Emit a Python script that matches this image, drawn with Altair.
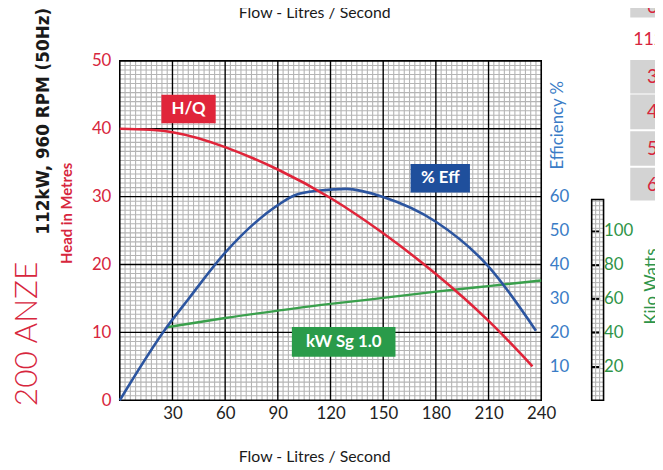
import altair as alt
import pandas as pd

# ---------------- data ----------------
flow_hq = [0, 30, 60, 90, 120, 150, 180, 210, 235]
head_hq = [40.0, 39.5, 37.3, 34.0, 29.8, 24.6, 18.6, 11.7, 5.0]

flow_eff = [0, 26.7, 38.9, 60, 90, 100, 114, 129, 150, 180, 210, 237]
eff_pct = [0, 21.5, 29.7, 43.5, 57.5, 60.5, 61.8, 62.3, 59.9, 52.6, 39.4, 20.5]

flow_kw = [26.7, 60, 90, 120, 150, 180, 210, 240]
kw_val = [43.0, 48.5, 52.8, 56.8, 60.3, 64.0, 67.3, 70.6]

flow_ticks = [30, 60, 90, 120, 150, 180, 210, 240]
head_ticks = [0, 10, 20, 30, 40, 50]
eff_ticks = [10, 20, 30, 40, 50, 60]
kw_ticks = [20, 40, 60, 80, 100]

box_labels = ["H/Q", "% Eff", "kW Sg 1.0"]
box_flow1 = [23.7, 165.6, 98.0]
box_flow2 = [54.6, 199.4, 157.0]
box_head1 = [40.8, 30.6, 6.4]
box_head2 = [45.0, 34.8, 10.8]

# ---------------- style ----------------
RED = "#d7263d"
RED_LINE = "#e0253a"
BLUE_LINE = "#2c55a0"
BLUE_TXT = "#3a7cc6"
BLUE_BOX = "#1f4f9c"
GREEN = "#3aa04c"
GREEN_TXT = "#2f9448"
GREEN_BOX = "#2a9b4a"
GRID = "#b4b4b4"
FONT = "Lato"
LBL = 17

W, H = 426, 343

xs = alt.Scale(domain=[0, 240], nice=False, zero=False)
head_s = alt.Scale(domain=[0, 50], nice=False, zero=False)
eff_s = alt.Scale(domain=[0, 100], nice=False, zero=False)
kw_s = alt.Scale(domain=[0, 200], nice=False, zero=False)

x_axis = alt.Axis(values=flow_ticks, orient="bottom", ticks=False, domain=False, grid=False, title=None,
                  labelFont=FONT, labelFontSize=LBL, labelColor="#222222", labelPadding=5,
                  labelFlush=False)

minor_x = [v for v in range(3, 240, 3) if v % 30]
minor_y = [round(k * 2 / 3, 4) for k in range(1, 75) if k % 15]
major_x = list(range(30, 240, 30))
major_y = list(range(10, 50, 10))

# ---------------- grid ----------------
minor_v = alt.Chart(pd.DataFrame({"flow": minor_x})).mark_rule(color=GRID, strokeWidth=1.1).encode(
    x=alt.X("flow:Q", scale=xs, axis=x_axis), y=alt.value(0), y2=alt.value(H))
minor_h = alt.Chart(pd.DataFrame({"h": minor_y})).mark_rule(color=GRID, strokeWidth=1.1).encode(
    y=alt.Y("h:Q", scale=head_s, axis=None), x=alt.value(0), x2=alt.value(W))
major_v = alt.Chart(pd.DataFrame({"flow": major_x})).mark_rule(color="black", strokeWidth=1.4).encode(
    x=alt.X("flow:Q", scale=xs, axis=x_axis), y=alt.value(0), y2=alt.value(H))
major_h = alt.Chart(pd.DataFrame({"h": major_y})).mark_rule(color="black", strokeWidth=1.4).encode(
    y=alt.Y("h:Q", scale=head_s, axis=None), x=alt.value(0), x2=alt.value(W))
border = alt.Chart(pd.DataFrame({"a": [0]})).mark_rect(fillOpacity=0, stroke="black", strokeWidth=1.6).encode(
    x=alt.value(0), x2=alt.value(W), y=alt.value(0), y2=alt.value(H))

# kW strip
SX1, SX2, STOP = 477, 489, 140
strip_rows = alt.Chart(pd.DataFrame({"h": [v for v in minor_y if v < 29.5]})).mark_rule(
    color=GRID, strokeWidth=1.1).encode(
    y=alt.Y("h:Q", scale=head_s, axis=None), x=alt.value(SX1), x2=alt.value(SX2))
strip_cols = alt.Chart(pd.DataFrame({"px": [481, 485]})).mark_rule(color=GRID, strokeWidth=1.1).encode(
    x=alt.X("px:Q", scale=None), y=alt.value(STOP), y2=alt.value(H))
strip_border = alt.Chart(pd.DataFrame({"a": [0]})).mark_rect(fillOpacity=0, stroke="black", strokeWidth=1.6).encode(
    x=alt.value(SX1), x2=alt.value(SX2), y=alt.value(STOP), y2=alt.value(H))

# ---------------- curves ----------------
hq = alt.Chart(pd.DataFrame({"flow": flow_hq, "head": head_hq})).mark_line(
    color=RED_LINE, strokeWidth=2.6, interpolate="natural").encode(
    x=alt.X("flow:Q", scale=xs, axis=x_axis),
    y=alt.Y("head:Q", scale=head_s, axis=alt.Axis(
        values=head_ticks, orient="left", ticks=False, domain=False, grid=False, title=None,
        labelFont=FONT, labelFontSize=LBL, labelColor=RED, labelPadding=9, labelFlush=False)))

effl = alt.Chart(pd.DataFrame({"flow": flow_eff, "eff": eff_pct})).mark_line(
    color=BLUE_LINE, strokeWidth=2.6, interpolate="monotone").encode(
    x=alt.X("flow:Q", scale=xs, axis=x_axis),
    y=alt.Y("eff:Q", scale=eff_s, axis=alt.Axis(
        values=eff_ticks, orient="right", ticks=False, domain=False, grid=False, title=None,
        labelFont=FONT, labelFontSize=LBL, labelColor=BLUE_TXT, labelPadding=8, labelFlush=False)))

kwl = alt.Chart(pd.DataFrame({"flow": flow_kw, "kw": kw_val})).mark_line(
    color=GREEN, strokeWidth=2.4, interpolate="natural").encode(
    x=alt.X("flow:Q", scale=xs, axis=x_axis),
    y=alt.Y("kw:Q", scale=kw_s, axis=alt.Axis(
        values=kw_ticks, orient="right", offset=50, ticks=True, tickSize=9, tickWidth=2.2,
        tickColor="black", domain=False, grid=False, title=None,
        labelFont=FONT, labelFontSize=LBL, labelColor=GREEN_TXT, labelPadding=4, labelFlush=False)))

# ---------------- label boxes ----------------
boxes_df = pd.DataFrame({"label": box_labels, "f1": box_flow1, "f2": box_flow2,
                         "h1": box_head1, "h2": box_head2})
box_color = alt.Color("label:N", scale=alt.Scale(domain=box_labels, range=[RED_LINE, BLUE_BOX, GREEN_BOX]),
                      legend=None)
boxes = alt.Chart(boxes_df).mark_rect().encode(
    x=alt.X("f1:Q", scale=xs, axis=x_axis), x2="f2:Q",
    y=alt.Y("h1:Q", scale=head_s, axis=None), y2="h2:Q", color=box_color)
box_text = alt.Chart(boxes_df).transform_calculate(
    flow="(datum.f1 + datum.f2) / 2", hc="(datum.h1 + datum.h2) / 2").mark_text(
    color="white", font=FONT, fontSize=17, fontWeight="bold", baseline="middle", align="center").encode(
    x=alt.X("flow:Q", scale=xs, axis=x_axis), y=alt.Y("hc:Q", scale=head_s, axis=None), text="label:N")

# ---------------- surrounding texts (pixel positions relative to plot) ----------------
def txt(s, x, y, size, color, angle=0, weight="normal", align="center", baseline="middle", font=FONT):
    kw = dict(text=s, font=font, fontSize=size, color=color, fontWeight=weight, align=align,
              baseline=baseline)
    if angle:
        kw["angle"] = angle
    return alt.Chart(pd.DataFrame({"a": [0]})).mark_text(**kw).encode(x=alt.value(x), y=alt.value(y))

texts = [
    txt("200 ANZE", -94, 276, 32, RED, angle=270, weight=300),
    txt("112kW, 960 RPM (50Hz)", -77, 61, 17, "#1a1a1a", angle=270, weight="bold", font="DejaVu Sans"),
    txt("Head in Metres", -53, 154, 15, RED, angle=270, weight="bold"),
    txt("Efficiency %", 443, 65, 17, BLUE_TXT, angle=270),
    txt("Kilo Watts", 538, 228, 17, GREEN_TXT, angle=270),
    txt("Flow - Litres / Second", 197, 400, 16, "#1a1a1a"),
    txt("Flow - Litres / Second", 197, -48, 16, "#1a1a1a"),
    txt("112kW", 519, -21, 18, RED, align="left"),
]

# gray table fragment at the top right
cells = pd.DataFrame({"x1": [516] * 5, "x2": [560] * 5,
                      "y1": [-70, -1, 34, 71, 108], "y2": [-44, 33, 69, 106, 141]})
cell_rects = alt.Chart(cells).mark_rect(color="#d3d3d3").encode(
    x=alt.X("x1:Q", scale=None), x2="x2:Q", y=alt.Y("y1:Q", scale=None), y2="y2:Q")
cell_digits = alt.Chart(pd.DataFrame({"d": ["6", "3", "4", "5", "6"], "py": [-54, 16, 52, 89, 125]})).mark_text(
    font=FONT, fontSize=19, color=RED, align="left", baseline="middle").encode(
    x=alt.value(533), y=alt.Y("py:Q", scale=None), text="d:N")

layers = [minor_v, minor_h, major_v, major_h, strip_rows, strip_cols, strip_border, border,
          kwl, effl, hq, boxes, box_text, cell_rects, cell_digits] + texts

chart = alt.layer(*layers).resolve_scale(y="independent").properties(
    width=W, height=H,
    padding={"left": 113, "top": 51, "right": 115, "bottom": 66},
    autosize=alt.AutoSizeParams(type="none"),
).configure_view(stroke=None)

chart.save("out.html", embed_options={"renderer": "svg", "actions": False})
